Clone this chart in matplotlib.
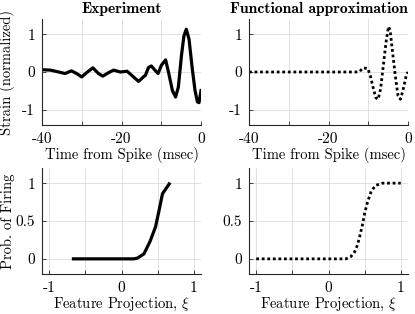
import matplotlib
matplotlib.use("Agg")
import matplotlib.pyplot as plt

plt.rcParams['font.family'] = 'cmr10'
plt.rcParams['mathtext.fontset'] = 'cm'
plt.rcParams['axes.unicode_minus'] = False
plt.rcParams['font.size'] = 10.5

# experiment: measured feature (strain vs time before spike)
t_exp = [-40, -37.9, -35.8, -34.2, -32.6, -31.3, -30.0, -28.8, -27.2, -25.8,
         -24.7, -23.3, -22.0, -20.3, -18.6, -17.4, -15.7, -14.4, -14.0, -13.2,
         -12.5, -11.6, -10.8, -9.95, -8.9, -8.1, -7.2, -6.4, -5.7, -4.9,
         -4.3, -3.7, -3.0, -2.2, -1.5, -0.9, -0.5, 0]
y_exp = [0.06, 0.05, 0.0, -0.04, 0.03, -0.04, -0.13, -0.02, 0.11, -0.04,
         -0.11, -0.02, 0.05, 0.0, 0.02, -0.09, -0.25, -0.12, -0.09, 0.12,
         0.16, 0.05, -0.04, 0.18, 0.32, -0.04, -0.49, -0.66, -0.4, 0.45,
         0.95, 1.13, 0.86, 0.09, -0.49, -0.79, -0.81, -0.49]

# functional approximation of the feature
t_fun = [-40, -13.0, -12.2, -11.3, -10.1, -9.5, -8.8, -8.1, -7.5, -6.9,
         -6.2, -5.5, -4.9, -4.5, -3.8, -3.1, -2.5, -1.9, -1.3, -0.4, 0]
y_fun = [0, 0, 0.01, 0.11, 0.09, -0.09, -0.40, -0.68, -0.72, -0.45,
         0.18, 0.81, 1.2, 1.1, 0.45, -0.18, -0.63, -0.72, -0.5, -0.07, 0]

# nonlinearity: probability of firing vs feature projection
xi_exp = [-0.665, 0.17, 0.22, 0.31, 0.395, 0.47, 0.52, 0.567, 0.66]
p_exp = [0, 0, 0.01, 0.065, 0.23, 0.42, 0.64, 0.86, 0.99]

xi_fun = [-1, 0.24, 0.31, 0.36, 0.40, 0.43, 0.47, 0.50, 0.54, 0.59, 0.65, 0.75, 1.0]
p_fun = [0, 0, 0.03, 0.09, 0.18, 0.29, 0.45, 0.60, 0.75, 0.89, 0.97, 1.0, 1.0]

fig = plt.figure(figsize=(4.15, 3.14), dpi=100)
W, H = 415, 314


def make_ax(x0, y0, x1, y1):
    ax = fig.add_axes([x0 / W, 1 - y1 / H, (x1 - x0) / W, (y1 - y0) / H])
    ax.spines['top'].set_visible(False)
    ax.spines['right'].set_visible(False)
    for s in ('left', 'bottom'):
        ax.spines[s].set_color('#262626')
        ax.spines[s].set_linewidth(0.8)
    ax.tick_params(direction='in', length=3, width=0.6, color='#262626',
                   labelsize=11, pad=5)
    ax.grid(True, color='#dcdcdc', linewidth=0.6)
    ax.set_axisbelow(True)
    return ax


dots = (0, (1, 1))

ax1 = make_ax(42, 19, 201, 125)
ax2 = make_ax(249, 19, 408, 125)
ax3 = make_ax(42, 168, 201, 274)
ax4 = make_ax(249, 168, 408, 274)

ax1.plot(t_exp, y_exp, color='black', lw=2.3, solid_joinstyle='round')
ax2.plot(t_fun, y_fun, color='black', lw=2.0, linestyle=dots)
ax3.plot(xi_exp, p_exp, color='black', lw=2.3)
ax4.plot(xi_fun, p_fun, color='black', lw=2.0, linestyle=dots)

for ax in (ax1, ax2):
    ax.set_xlim(-40, 0)
    ax.set_ylim(-1.4, 1.4)
    ax.set_xticks([-40, -30, -20, -10, 0])
    ax.set_xticklabels(['-40', '', '-20', '', '0'])
    ax.set_yticks([-1, 0, 1])
    ax.set_xlabel('Time from Spike (msec)', labelpad=1)

for ax in (ax3, ax4):
    ax.set_xlim(-1.1, 1.1)
    ax.set_ylim(-0.2, 1.2)
    ax.set_xticks([-1, -0.5, 0, 0.5, 1])
    ax.set_xticklabels(['-1', '', '0', '', '1'])
    ax.set_yticks([0, 0.5, 1])
    ax.set_yticklabels(['0', '0.5', '1'])
    ax.set_xlabel(r'Feature Projection, $\xi$', labelpad=1)

ax1.set_ylabel('Strain (normalized)')
ax3.set_ylabel('Prob. of Firing')
for ax in (ax1, ax3):
    ax.yaxis.set_label_coords(-0.17, 0.5)

ax1.set_title('Experiment', fontfamily='cmb10', fontsize=11.3, pad=4)
ax2.set_title('Functional approximation', fontfamily='cmb10', fontsize=11.3,
              pad=4, x=0.44)

fig.savefig('out.png', dpi=100)
